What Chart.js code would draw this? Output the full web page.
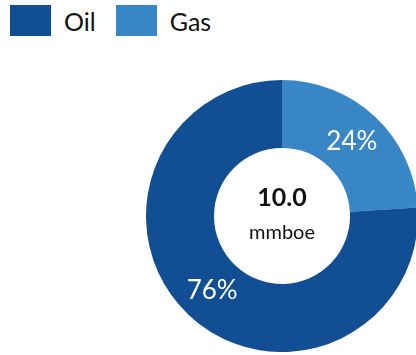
<!DOCTYPE html>
<html><head><meta charset="utf-8">
<script src="https://cdn.jsdelivr.net/npm/chart.js@4/dist/chart.umd.min.js"></script>
<style>
html,body{margin:0;padding:0;width:416px;height:355px;overflow:hidden;background:#fff;font-family:Lato,"Open Sans",sans-serif;}
#legend{position:absolute;left:10px;top:5px;display:flex;align-items:center;}
.item{display:flex;align-items:center;margin-right:20px;font-size:25px;color:#111;}
.box{width:41px;height:31px;margin-right:13px;}
#wrap{position:absolute;left:146px;top:80px;width:272px;height:272px;}
</style></head>
<body>
<div id="legend"></div>
<div id="wrap"><canvas id="c" width="272" height="272"></canvas></div>
<script>
const categories = ["Gas", "Oil"];
const shares = [24, 76];
const colors = ["#3886C6", "#124E93"];
const legendOrder = ["Oil", "Gas"];
const centerValue = "10.0";
const centerUnit = "mmboe";

const leg = document.getElementById('legend');
legendOrder.forEach(name => {
  const i = categories.indexOf(name);
  const it = document.createElement('div'); it.className = 'item';
  const b = document.createElement('div'); b.className = 'box'; b.style.background = colors[i];
  const t = document.createElement('span'); t.textContent = name;
  it.appendChild(b); it.appendChild(t); leg.appendChild(it);
});

const labelPlugin = {
  id: 'labels',
  afterDatasetsDraw(chart) {
    const ctx = chart.ctx;
    const meta = chart.getDatasetMeta(0);
    ctx.save();
    ctx.fillStyle = '#fff';
    ctx.font = '26px Lato, "Open Sans", sans-serif';
    ctx.textAlign = 'center'; ctx.textBaseline = 'middle';
    meta.data.forEach((arc, i) => {
      const p = arc.tooltipPosition();
      ctx.fillText(shares[i] + '%', p.x, p.y);
    });
    const a = meta.data[0];
    ctx.fillStyle = '#111';
    ctx.font = 'bold 25px Lato, "Open Sans", sans-serif';
    ctx.fillText(centerValue, a.x, a.y - 18);
    ctx.font = '20px Lato, "Open Sans", sans-serif';
    ctx.fillText(centerUnit, a.x, a.y + 17);
    ctx.restore();
  }
};

new Chart(document.getElementById('c'), {
  type: 'doughnut',
  data: { labels: categories, datasets: [{ data: shares, backgroundColor: colors, borderWidth: 0 }] },
  options: {
    responsive: false, animation: false, cutout: '50%',
    layout: { padding: 0 },
    plugins: { legend: { display: false }, tooltip: { enabled: false } }
  },
  plugins: [labelPlugin]
});
</script>
</body></html>
